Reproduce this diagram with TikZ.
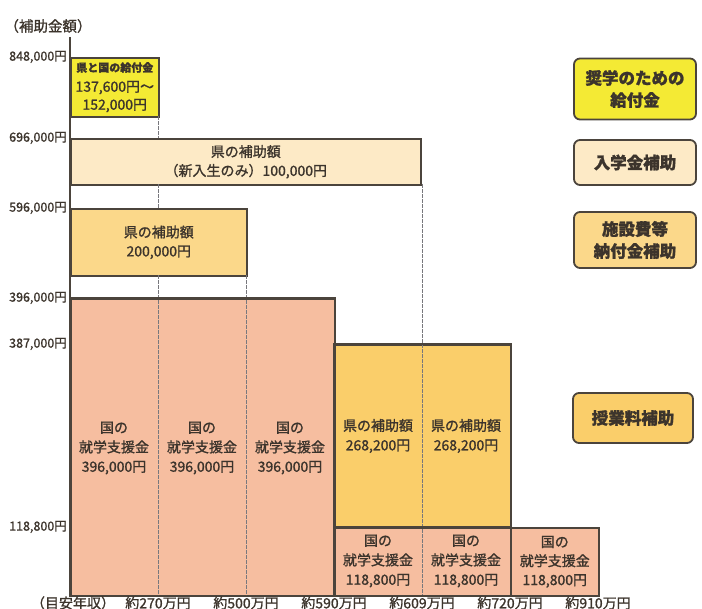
\documentclass[tikz,border=0pt]{standalone}
\usepackage{fontspec}
\setmainfont{Noto Sans CJK JP}[FakeBold=1.2]
\definecolor{edge}{RGB}{75,68,60}
\definecolor{txt}{RGB}{60,52,44}
\definecolor{yel}{RGB}{244,234,52}
\definecolor{cream}{RGB}{253,234,198}
\definecolor{lorange}{RGB}{251,216,138}
\definecolor{orange}{RGB}{250,206,106}
\definecolor{pink}{RGB}{246,190,160}
\definecolor{dashgray}{RGB}{120,120,125}
\begin{document}
\begin{tikzpicture}[x=1pt,y=-1pt,
  bar/.style={draw=edge, line width=1.6pt, inner sep=0pt, anchor=north west, text=txt,
    align=center, font=\fontsize{14}{19}\selectfont},
  coltext/.style={text=txt, align=center, font=\fontsize{14}{19.5}\selectfont},
  axl/.style={anchor=east, text=txt, font=\fontsize{12.5}{13}\selectfont, inner sep=0pt},
  botl/.style={text=txt, font=\fontsize{14}{15}\selectfont, inner sep=0pt},
  legend/.style={draw=edge, line width=1.8pt, rounded corners=6pt, text=txt, align=center,
    font=\fontsize{16.5}{22}\selectfont\bfseries, minimum width=122pt},
  dashv/.style={draw=dashgray, line width=0.8pt, dash pattern=on 1.6pt off 0.9pt}]
\useasboundingbox (0,0) rectangle (702,609);

% lower bars
\node[bar, fill=pink, minimum width=264pt, minimum height=297pt] (pbig) at (70,298) {};
\node[bar, fill=orange, minimum width=176pt, minimum height=183pt] (obig) at (334,344) {};
\node[bar, fill=pink, minimum width=176pt, minimum height=68pt] (psmall) at (334,527) {};
\node[bar, fill=pink, minimum width=88pt, minimum height=68pt] (psmall3) at (510,527) {
国の\\就学支援金\\118,800円};

% upper bars
\node[bar, fill=yel, minimum width=88pt, minimum height=59pt] (ybox) at (70,57) {
{\fontsize{11}{12}\selectfont\bfseries 県と国の給付金}\\[1pt]137,600円～\\[-1pt]152,000円};
\node[bar, fill=cream, minimum width=350pt, minimum height=46pt] (cbox) at (70,138) {
県の補助額\\（新入生のみ）100,000円};
\node[bar, fill=lorange, minimum width=176pt, minimum height=67pt] (sbox) at (70,208) {
県の補助額\\200,000円};

% dashed column lines
\coordinate (d1a) at (158,116); \coordinate (d1b) at (158,138);
\coordinate (d1c) at (158,184); \coordinate (d1d) at (158,208);
\coordinate (d1e) at (158,275); \coordinate (d1f) at (158,595);
\coordinate (d2a) at (246,275); \coordinate (d2b) at (246,595);
\coordinate (d3a) at (422,184); \coordinate (d3b) at (422,595);
\draw[dashv] (d1a) -- (d1b);
\draw[dashv] (d1c) -- (d1d);
\draw[dashv] (d1e) -- (d1f);
\draw[dashv] (d2a) -- (d2b);
\draw[dashv] (d3a) -- (d3b);

% redraw borders over dashes
\draw[edge, line width=1.6pt] (pbig.north west) rectangle (pbig.south east);
\draw[edge, line width=1.6pt] (obig.north west) rectangle (obig.south east);
\draw[edge, line width=1.6pt] (psmall.north west) rectangle (psmall.south east);

% column texts
\node[coltext] (t1) at (114,448) {国の\\就学支援金\\396,000円};
\node[coltext] (t2) at (202,448) {国の\\就学支援金\\396,000円};
\node[coltext] (t3) at (290,448) {国の\\就学支援金\\396,000円};
\node[coltext] (t4) at (378,436) {県の補助額\\268,200円};
\node[coltext] (t5) at (466,436) {県の補助額\\268,200円};
\node[coltext] (t6) at (378,561) {国の\\就学支援金\\118,800円};
\node[coltext] (t7) at (466,561) {国の\\就学支援金\\118,800円};

% axis
\coordinate (axtop) at (70,37);
\coordinate (axbot) at (70,595);
\draw[edge, line width=1.6pt] (axtop) -- (axbot);

% axis labels
\node[text=txt, font=\fontsize{14.5}{15}\selectfont, inner sep=0pt] (ttl) at (48,26) {（補助金額）};
\node[axl] (l1) at (67,57) {848,000円};
\node[axl] (l2) at (67,138) {696,000円};
\node[axl] (l3) at (67,208) {596,000円};
\node[axl] (l4) at (67,298) {396,000円};
\node[axl] (l5) at (67,344) {387,000円};
\node[axl] (l6) at (67,527) {118,800円};

% bottom labels
\node[botl] (b0) at (73,603) {（目安年収）};
\node[botl] (b1) at (158,603) {約270万円};
\node[botl] (b2) at (246,603) {約500万円};
\node[botl] (b3) at (334,603) {約590万円};
\node[botl] (b4) at (422,603) {約609万円};
\node[botl] (b5) at (510,603) {約720万円};
\node[botl] (b6) at (598,603) {約910万円};

% legend boxes
\node[legend, fill=yel, minimum height=61pt] (g1) at (635,89) {奨学のための\\給付金};
\node[legend, fill=cream, minimum height=45pt] (g2) at (635,162.5) {入学金補助};
\node[legend, fill=lorange, minimum height=56pt] (g3) at (635,240) {施設費等\\納付金補助};
\node[legend, fill=orange, minimum height=50pt, minimum width=120pt] (g4) at (633,418) {授業料補助};
\end{tikzpicture}
\end{document}
